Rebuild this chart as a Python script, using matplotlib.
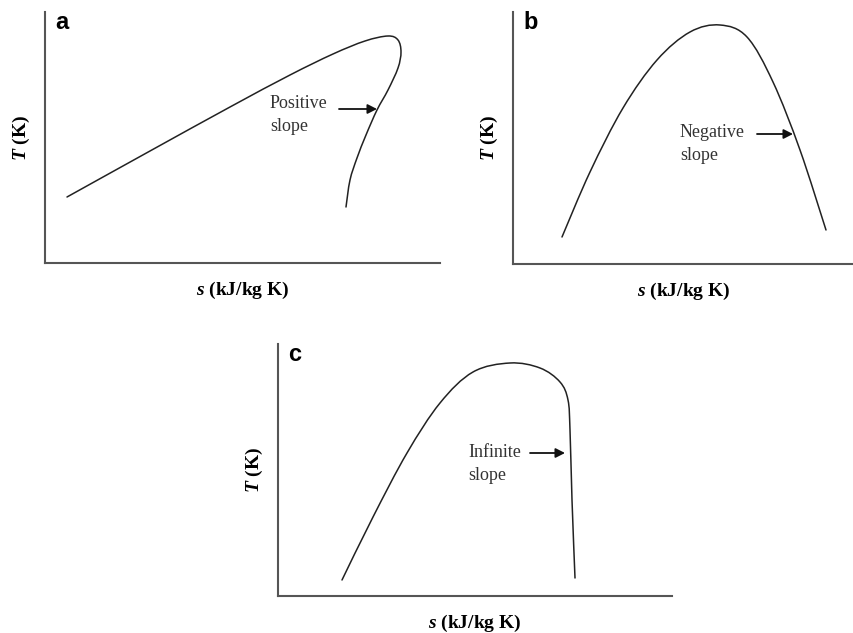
import numpy as np
import matplotlib.pyplot as plt
from matplotlib.path import Path
from matplotlib.patches import PathPatch

plt.rcParams["mathtext.fontset"] = "custom"
plt.rcParams["mathtext.it"] = "Liberation Serif:italic:bold"
plt.rcParams["mathtext.rm"] = "Liberation Serif:bold"

# ── Saturation curves, sketched in panel units (s right, T up) ─────
curve_a_s = [22, 105, 185, 245, 288, 320, 343, 353, 356, 353, 343, 332,
             321, 312, 305, 301]
curve_a_T = [66, 112, 156, 188, 209, 222, 227, 223, 211, 195, 173, 153,
             128, 105, 83, 56]

curve_b_s = [49, 77, 110, 144, 177, 207, 234, 260, 287, 313]
curve_b_T = [27, 92, 156, 204, 232, 239, 227, 182, 114, 34]

curve_c_s = [64, 95, 129, 162, 195, 232, 262, 282, 290, 292, 294, 297]
curve_c_T = [16, 79, 143, 193, 224, 233, 228, 214, 196, 166, 96, 18]

panel_letters = ["a", "b", "c"]
slope_notes = ["Positive\nslope", "Negative\nslope", "Infinite\nslope"]

# arrow (tail s, head s, T) and note position (s, T) per panel
arrow_tail = [294, 244, 252]
arrow_head = [332, 280, 287]
arrow_T = [154, 130, 143]
note_s = [225, 167, 190]
note_T = [148, 120, 132]

# panel frames in pixels: left, bottom (from top), width, height
frames = [(45, 263, 395, 251), (513, 264, 341, 252), (278, 596, 394, 252)]
curves = [(curve_a_s, curve_a_T), (curve_b_s, curve_b_T), (curve_c_s, curve_c_T)]


def smooth_path(xs, ys):
    """Catmull-Rom through the points, written as cubic Bezier segments."""
    p = np.column_stack([xs, ys]).astype(float)
    p = np.vstack([p[0], p, p[-1]])
    verts = [p[1]]
    codes = [Path.MOVETO]
    for k in range(1, len(p) - 2):
        p0, p1, p2, p3 = p[k - 1], p[k], p[k + 1], p[k + 2]
        verts += [p1 + (p2 - p0) / 6, p2 - (p3 - p1) / 6, p2]
        codes += [Path.CURVE4] * 3
    return Path(verts, codes)


W, H = 854, 633
fig = plt.figure(figsize=(W / 100, H / 100), dpi=100)

for i, (left, bottom, w, h) in enumerate(frames):
    ax = fig.add_axes([left / W, 1 - bottom / H, w / W, h / H])
    ax.set_xlim(0, w)
    ax.set_ylim(0, h)
    for side in ["top", "right"]:
        ax.spines[side].set_visible(False)
    for side in ["left", "bottom"]:
        ax.spines[side].set_color("#555555")
        ax.spines[side].set_linewidth(1.5)
    ax.set_xticks([])
    ax.set_yticks([])

    s, T = curves[i]
    ax.add_patch(PathPatch(smooth_path(s, T), facecolor="none", edgecolor="#222222",
                           lw=1.1, capstyle="round"))

    ax.annotate("", xy=(arrow_head[i], arrow_T[i]), xytext=(arrow_tail[i], arrow_T[i]),
                arrowprops=dict(arrowstyle="-|>,head_length=0.55,head_width=0.28",
                                color="#111111", lw=1.3, shrinkA=0, shrinkB=0))
    ax.text(note_s[i], note_T[i], slope_notes[i], family="Liberation Serif",
            fontsize=13, color="#333333", ha="left", va="center", linespacing=1.45)

    ax.text(10, h - 17, panel_letters[i], family="Liberation Sans", fontweight="bold",
            fontsize=17, ha="left", va="baseline", color="black")

    ax.set_xlabel("$s$ (kJ/kg K)", family="Liberation Serif", fontweight="bold",
                  fontsize=14, labelpad=12)
    ax.set_ylabel("$T$ (K)", family="Liberation Serif", fontweight="bold",
                  fontsize=14, labelpad=9)

plt.savefig("out.png", dpi=100)
